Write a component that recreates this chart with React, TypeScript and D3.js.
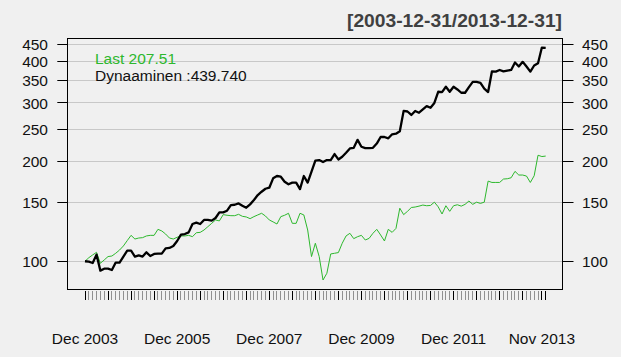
import React from "react";
import * as d3 from "d3";

const W = 621;
const H = 357;

// Dynaaminen (black, thick)
const dynaaminen = [
  100.0, 99.7, 98.8, 104.7, 93.7, 95.0, 95.0, 94.1, 99.1, 99.1,
  103.3, 107.6, 107.6, 103.3, 104.2, 103.3, 106.4, 103.7, 105.2, 105.4,
  105.4, 109.4, 109.7, 111.2, 115.1, 120.3, 120.8, 122.2, 129.5, 130.7,
  129.5, 133.2, 133.2, 132.6, 135.0, 140.4, 140.4, 142.0, 147.7, 148.0,
  149.4, 147.0, 145.0, 148.4, 152.9, 158.3, 162.0, 165.4, 166.6, 177.8,
  180.7, 179.8, 173.7, 170.6, 172.6, 172.6, 165.0, 180.7, 172.6, 186.2,
  200.9, 201.8, 199.0, 201.8, 201.8, 210.4, 202.7, 206.6, 212.4, 218.8,
  219.8, 232.2, 221.4, 219.3, 219.3, 219.8, 226.3, 236.9, 236.9, 234.7,
  241.3, 242.4, 246.5, 284.0, 282.7, 276.0, 283.7, 280.3, 286.8, 293.5,
  290.2, 300.0, 324.2, 323.5, 335.6, 324.2, 335.6, 329.5, 322.0, 322.0,
  334.8, 347.4, 347.4, 345.0, 331.1, 323.5, 373.6, 372.8, 377.1, 373.6,
  375.4, 377.1, 397.1, 386.3, 399.0, 386.3, 372.8, 389.0, 395.3, 440.5,
  439.74,
];

// Last (green, thin)
const last = [
  100.0, 102.5, 104.5, 106.4, 98.6, 100.9, 103.3, 103.7, 105.7, 108.1,
  111.2, 115.4, 119.7, 116.7, 117.5, 117.8, 119.2, 119.7, 119.7, 124.8,
  123.4, 120.8, 117.5, 116.7, 118.1, 119.2, 119.2, 119.7, 118.6, 121.9,
  122.2, 124.2, 127.1, 130.1, 133.2, 132.3, 138.2, 137.6, 137.2, 137.2,
  138.5, 136.6, 136.0, 134.4, 136.3, 137.9, 139.5, 136.9, 133.2, 131.4,
  129.5, 136.3, 137.6, 139.5, 130.1, 130.1, 139.5, 137.9, 124.2, 103.3,
  113.3, 103.3, 87.8, 92.0, 105.2, 105.7, 106.2, 113.3, 119.2, 121.4,
  117.0, 118.6, 119.7, 115.9, 117.2, 121.4, 124.8, 120.0, 115.1, 124.8,
  122.2, 125.6, 144.5, 138.2, 141.4, 145.2, 145.7, 146.6, 147.7, 147.0,
  147.3, 150.7, 145.9, 138.8, 147.0, 141.4, 147.0, 148.0, 146.6, 148.4,
  151.9, 148.4, 150.7, 149.4, 150.7, 174.4, 172.8, 172.8, 172.8, 176.9,
  177.3, 178.5, 186.6, 181.9, 181.9, 180.6, 172.8, 181.0, 208.7, 206.8,
  207.51,
];

const yTicks = [100, 150, 200, 250, 300, 350, 400, 450];
const xLabelIdx = [0, 24, 48, 72, 96, 119];
const xLabels = ["Dec 2003", "Dec 2005", "Dec 2007", "Dec 2009", "Dec 2011", "Nov 2013"];
const title = "[2003-12-31/2013-12-31]";
const legendLast = "Last 207.51";
const legendDyn = "Dynaaminen :439.740";

const GREEN = "#2db82d";
const FONT = "'Liberation Sans', Arial, sans-serif";

export default function App() {
  React.useEffect(() => {
    document.body.style.margin = "0";
    document.body.style.background = "#f0f0f0";
  }, []);

  const box = { l: 67.7, r: 563, t: 38.3, b: 289.3 };
  const n = dynaaminen.length;
  const x = d3.scaleLinear().domain([0, n - 1]).range([85, 545.7]);

  const all = [...dynaaminen, ...last];
  const mn = d3.min(all) as number;
  const mx = d3.max(all) as number;
  const ext = Math.log(mx / mn) * 0.04;
  const y = d3
    .scaleLog()
    .domain([mn * Math.exp(-ext), mx * Math.exp(ext)])
    .range([box.b, box.t]);

  const line = d3
    .line<number>()
    .x((_, i) => x(i))
    .y((d) => y(d));

  const crisp = (v: number) => Math.floor(v) + 0.5;
  const idx = d3.range(n);
  const majors = new Set([...idx.filter((i) => i % 6 === 0), 119]);

  return (
    <svg
      width={W}
      height={H}
      style={{ position: "absolute", left: 0, top: 0, background: "#f0f0f0" }}
      fontFamily={FONT}
    >
      <rect x={0} y={0} width={W} height={H} fill="#f0f0f0" />
      {/* grid */}
      {yTicks.map((t) => (
        <line
          key={"g" + t}
          x1={box.l}
          x2={box.r}
          y1={crisp(y(t))}
          y2={crisp(y(t))}
          stroke="#c8c8c8"
          strokeWidth={1}
        />
      ))}
      {/* series */}
      <path d={line(last) || ""} fill="none" stroke={GREEN} strokeWidth={1} />
      <path
        d={line(dynaaminen) || ""}
        fill="none"
        stroke="#000"
        strokeWidth={2.3}
        strokeLinejoin="round"
      />
      {/* box */}
      <rect
        x={crisp(box.l)}
        y={crisp(box.t)}
        width={Math.round(box.r - box.l)}
        height={Math.round(box.b - box.t)}
        fill="none"
        stroke="#000"
        strokeWidth={1}
      />
      {/* y axes */}
      {yTicks.map((t) => (
        <g key={"y" + t}>
          <line x1={57.3} x2={box.l} y1={crisp(y(t))} y2={crisp(y(t))} stroke="#000" />
          <line x1={box.r} x2={573.5} y1={crisp(y(t))} y2={crisp(y(t))} stroke="#000" />
          <text
            x={48}
            y={y(t)}
            dy="0.36em"
            textAnchor="end"
            fontSize={15.5}
            fill="#111"
          >
            {t}
          </text>
          <text x={582} y={y(t)} dy="0.36em" textAnchor="start" fontSize={15.5} fill="#111">
            {t}
          </text>
        </g>
      ))}
      {/* x ticks */}
      {idx.map((i) => (
        <line
          key={"x" + i}
          x1={crisp(x(i))}
          x2={crisp(x(i))}
          y1={291}
          y2={300}
          stroke={majors.has(i) ? "#000" : "#909090"}
          strokeWidth={1}
        />
      ))}
      {xLabelIdx.map((i, k) => (
        <text
          key={"xl" + i}
          x={x(i)}
          y={344}
          textAnchor="middle"
          fontSize={15.5}
          fill="#111"
        >
          {xLabels[k]}
        </text>
      ))}
      {/* title */}
      <text
        x={562}
        y={27.3}
        textAnchor="end"
        fontSize={18}
        fontWeight="bold"
        fill="#404040"
        textLength={215}
        lengthAdjust="spacingAndGlyphs"
      >
        {title}
      </text>
      {/* legend */}
      <text x={95} y={64} fontSize={15.5} fill={GREEN}>
        {legendLast}
      </text>
      <text x={95} y={80.7} fontSize={15.5} fill="#111">
        {legendDyn}
      </text>
    </svg>
  );
}
